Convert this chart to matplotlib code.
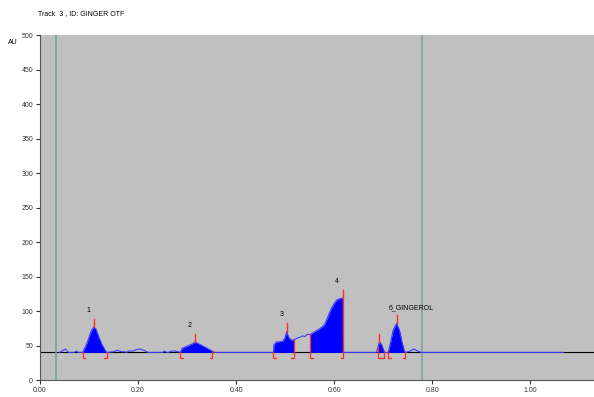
import matplotlib
matplotlib.use('Agg')
import matplotlib.pyplot as plt
import numpy as np

plt.rcParams['font.family'] = ['Liberation Sans', 'DejaVu Sans']

# densitogram trace (Rf, AU)
rf = [0.040, 0.047, 0.052, 0.058, 0.070, 0.074, 0.078, 0.087, 0.095, 0.100,
      0.105, 0.110, 0.114, 0.120, 0.126, 0.132, 0.136, 0.150, 0.158, 0.166,
      0.172, 0.176, 0.182, 0.190, 0.196, 0.204, 0.212, 0.220, 0.250, 0.254,
      0.258, 0.262, 0.268, 0.276, 0.286, 0.290, 0.300, 0.310, 0.316, 0.322,
      0.330, 0.338, 0.346, 0.351, 0.356, 0.476, 0.477, 0.482, 0.495, 0.500,
      0.503, 0.507, 0.512, 0.517, 0.522, 0.530, 0.535, 0.540, 0.545, 0.551,
      0.560, 0.570, 0.580, 0.585, 0.590, 0.595, 0.600, 0.605, 0.612, 0.618,
      0.619, 0.686, 0.688, 0.692, 0.696, 0.700, 0.703, 0.710, 0.715, 0.720,
      0.727, 0.733, 0.738, 0.743, 0.746, 0.755, 0.762, 0.770, 0.778, 1.067]
au = [40, 43, 45, 40, 40, 42, 40, 40, 52, 62,
      72, 77, 74, 62, 52, 44, 40, 41, 43, 41,
      41, 40, 42, 42, 44, 45, 43, 40, 40, 42,
      40, 40, 42, 42, 40, 46, 49, 52, 55, 53,
      50, 47, 44, 42, 40, 40, 51, 55, 56, 62,
      70, 62, 58, 58, 60, 62, 64, 63, 66, 66,
      70, 74, 80, 88, 97, 105, 111, 116, 118, 119,
      40, 40, 45, 55, 52, 45, 40, 40, 55, 72,
      82, 72, 55, 42, 40, 42, 45, 42, 40, 40]

baseline = 40
# integrated peaks: start, end, apex Rf, label, label position
pk_start = [0.087, 0.286, 0.476, 0.551, 0.690, 0.710]
pk_end = [0.136, 0.351, 0.517, 0.618, 0.702, 0.745]
pk_apex = [0.110, 0.316, 0.503, 0.618, 0.692, 0.727]
pk_label = ['1', '2', '3', '4', '', '6_GINGEROL']
lab_x = [0.095, 0.300, 0.488, 0.602, 0.690, 0.710]
lab_y = [96, 74, 90, 138, 0, 100]

rf = np.array(rf)
au = np.array(au)

fig = plt.figure(figsize=(5.94, 3.97), dpi=100)
ax = fig.add_axes([0.0673, 0.0428, 0.933, 0.869])
ax.set_facecolor('#c0c0c0')

ax.axhline(baseline, color='black', lw=0.8, zorder=1)
ax.axvline(0.033, color='#6aa6a0', lw=1.2, zorder=1)
ax.axvline(0.778, color='#80a4a0', lw=1.2, zorder=1)

for s, e in zip(pk_start, pk_end):
    xs = np.linspace(s, e, 60)
    ax.fill_between(xs, baseline, np.interp(xs, rf, au), color='#0000ff', lw=0, zorder=2)
ax.plot(rf, au, color='#3a3aff', lw=0.8, zorder=3)

red = '#ff2a2a'
for s, e, a in zip(pk_start, pk_end, pk_apex):
    ya = np.interp(a, rf, au)
    ax.plot([a, a], [ya, ya + 12], color=red, lw=1.0, zorder=4)
    ax.plot([s, s, s + 0.005], [np.interp(s, rf, au), 32, 32], color=red, lw=0.9, zorder=4)
    ax.plot([e - 0.005, e, e], [32, 32, np.interp(e, rf, au)], color=red, lw=0.9, zorder=4)
for lb, x, y in zip(pk_label, lab_x, lab_y):
    if lb:
        ax.text(x, y, lb, fontsize=5, ha='left', va='bottom', zorder=5)

ax.set_xlim(0, 1.13)
ax.set_ylim(0, 500)
ax.set_xticks([0.0, 0.2, 0.4, 0.6, 0.8, 1.0])
ax.set_xticklabels(['0.00', '0.20', '0.40', '0.60', '0.80', '1.00'])
ax.set_yticks(np.arange(0, 501, 50))
ax.tick_params(labelsize=5, length=3, width=0.8, pad=2, colors='#333333')
for sp in ['top', 'right']:
    ax.spines[sp].set_visible(False)
ax.spines['left'].set_color('#555555')
ax.spines['bottom'].set_color('#555555')

fig.text(0.064, 0.965, 'Track  3 , ID: GINGER OTF', fontsize=5, va='center')
fig.text(0.014, 0.893, 'AU', fontsize=5, va='center')

fig.savefig('out.png', dpi=100)
